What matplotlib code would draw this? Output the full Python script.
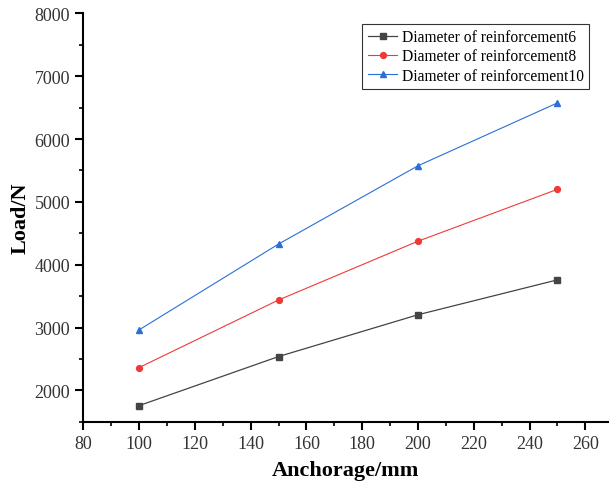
import matplotlib
matplotlib.use("Agg")
import matplotlib.pyplot as plt
from matplotlib.ticker import MultipleLocator

anchorage = [100, 150, 200, 250]
load_d6 = [1760, 2540, 3205, 3760]
load_d8 = [2365, 3440, 4375, 5200]
load_d10 = [2965, 4330, 5575, 6575]
labels = ["Diameter of reinforcement6", "Diameter of reinforcement8", "Diameter of reinforcement10"]

plt.rcParams['font.family'] = ['Liberation Serif', 'DejaVu Serif']

fig = plt.figure(figsize=(6.11, 4.85), dpi=100)
ax = fig.add_axes([0.1365, 0.128, 0.858, 0.8425])

ax.plot(anchorage, load_d6, color='#444444', marker='s', ms=3.8, lw=0.9, label=labels[0])
ax.plot(anchorage, load_d8, color='#f03a3a', marker='o', ms=4.2, lw=0.8, label=labels[1])
ax.plot(anchorage, load_d10, color='#2a6fd8', marker='^', ms=4.8, lw=0.8, label=labels[2])

ax.set_xlim(80, 268)
ax.set_ylim(1500, 8000)
ax.xaxis.set_major_locator(MultipleLocator(20))
ax.xaxis.set_minor_locator(MultipleLocator(10))
ax.yaxis.set_major_locator(MultipleLocator(1000))
ax.yaxis.set_minor_locator(MultipleLocator(500))

ax.spines['top'].set_visible(False)
ax.spines['right'].set_visible(False)
for s in ('left', 'bottom'):
    ax.spines[s].set_linewidth(1.5)
ax.tick_params(which='major', direction='out', length=6, width=1.5, labelsize=13, colors='black')
ax.tick_params(which='minor', direction='out', length=3, width=1.2)
for t in ax.get_xticklabels() + ax.get_yticklabels():
    t.set_color('#333333')

ax.set_xlabel('Anchorage/mm', fontsize=16, fontweight='bold', labelpad=6)
ax.set_ylabel('Load/N', fontsize=16, fontweight='bold', labelpad=3)

leg = ax.legend(loc='upper left', bbox_to_anchor=(0.532, 0.974), fontsize=11.2, frameon=True,
                fancybox=False, edgecolor='black', handlelength=1.9, handletextpad=0.3,
                borderpad=0.35, labelspacing=0.2, borderaxespad=0)
leg.get_frame().set_linewidth(0.8)

fig.savefig('out.png', dpi=100)
